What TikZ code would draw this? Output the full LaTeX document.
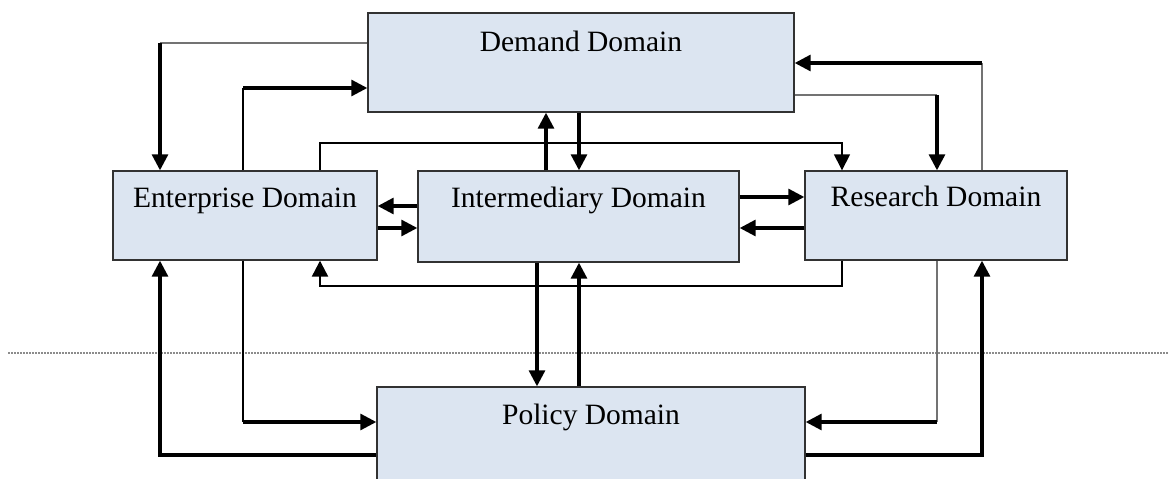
\documentclass[tikz,border=0pt]{standalone}
\usepackage{fontspec}
\setmainfont{Liberation Serif}
\usetikzlibrary{arrows.meta}
\definecolor{boxfill}{RGB}{220,229,241}
\definecolor{boxline}{RGB}{50,50,50}
\definecolor{thingray}{RGB}{115,115,115}
\definecolor{dotgray}{RGB}{140,140,140}
\begin{document}
\begin{tikzpicture}[x=1pt,y=-1pt,
  domainbox/.style={draw=boxline,line width=1.4pt,fill=boxfill,inner sep=0pt},
  lbl/.style={anchor=base,inner sep=0pt,font=\fontsize{29.5}{32}\selectfont},
  tip/.style={-{Triangle[length=16pt,width=16pt]}},
  thickline/.style={line width=3.1pt,black},
  midline/.style={line width=2.3pt,black},
  thinline/.style={line width=1.5pt,black},
  grayline/.style={line width=1.3pt,thingray},
  dotline/.style={line width=1.3pt,dotgray,dash pattern=on 2pt off 1pt}]
\useasboundingbox (0,0) rectangle (1168,479);
\clip (0,0) rectangle (1168,479);
% helper coordinates
\coordinate (xa) at (160,0);
\coordinate (xb) at (243,0);
\coordinate (xc) at (320,0);
\coordinate (xd) at (546,0);
\coordinate (xd2) at (537,0);
\coordinate (xe) at (579,0);
\coordinate (xf) at (842,0);
\coordinate (xg) at (937,0);
\coordinate (xh) at (982,0);
\coordinate (y1) at (0,43);
\coordinate (y2) at (0,88);
\coordinate (y3) at (0,143);
\coordinate (y4) at (0,63);
\coordinate (y5) at (0,95);
\coordinate (y6) at (0,206);
\coordinate (y7) at (0,228);
\coordinate (y8) at (0,197);
\coordinate (y10) at (0,286);
\coordinate (y11) at (0,422);
\coordinate (y12) at (0,455);
\coordinate (dl) at (8,353);
\coordinate (dr) at (1168,353);
% dotted separator
\draw[dotline] (dl) -- (dr);
% boxes
\node[domainbox,minimum width=426pt,minimum height=99pt] (dem) at (581,62.5) {};
\node[domainbox,minimum width=264pt,minimum height=89pt] (ent) at (245,215.5) {};
\node[domainbox,minimum width=321pt,minimum height=91pt] (int) at (578.5,216.5) {};
\node[domainbox,minimum width=262pt,minimum height=89pt] (res) at (936,215.5) {};
\node[domainbox,minimum width=428pt,minimum height=120pt] (pol) at (591,447) {};
% labels
\node[lbl] (demt) at ([yshift=-39pt]dem.north) {Demand Domain};
\node[lbl] (entt) at ([yshift=-37pt]ent.north) {Enterprise Domain};
\node[lbl] (intt) at ([yshift=-37pt]int.north) {Intermediary Domain};
\node[lbl] (rest) at ([yshift=-36pt]res.north) {Research Domain};
\node[lbl] (polt) at ([yshift=-38pt]pol.north) {Policy Domain};
% C1 demand -> enterprise
\draw[grayline] (dem.west |- y1) -- (xa |- y1);
\draw[thickline,tip] (xa |- y1) -- (xa |- ent.north);
% C2 enterprise -> demand
\draw[thinline] (xb |- ent.north) -- (xb |- y2);
\draw[thickline,tip] (xb |- y2) -- (dem.west |- y2);
% C3 enterprise -> research
\draw[thinline,tip] (xc |- ent.north) -- (xc |- y3) -- (xf |- y3) -- (xf |- res.north);
% C4, C5 intermediary <-> demand
\draw[thickline,tip] (xd |- int.north) -- (xd |- dem.south);
\draw[thickline,tip] (xe |- dem.south) -- (xe |- int.north);
% C6..C9 horizontal pairs
\draw[thickline,tip] (int.west |- y6) -- (ent.east |- y6);
\draw[thickline,tip] (ent.east |- y7) -- (int.west |- y7);
\draw[thickline,tip] (int.east |- y8) -- (res.west |- y8);
\draw[thickline,tip] (res.west |- y7) -- (int.east |- y7);
% C10 research -> demand
\draw[grayline] (xh |- res.north) -- (xh |- y4);
\draw[thickline,tip] (xh |- y4) -- (dem.east |- y4);
% C11 demand -> research
\draw[grayline] (dem.east |- y5) -- (xg |- y5);
\draw[thickline,tip] (xg |- y5) -- (xg |- res.north);
% C12 research -> enterprise
\draw[midline,tip] (xf |- res.south) -- (xf |- y10) -- (xc |- y10) -- (xc |- ent.south);
% C13, C14 intermediary <-> policy
\draw[thickline,tip] (xd2 |- int.south) -- (xd2 |- pol.north);
\draw[thickline,tip] (xe |- pol.north) -- (xe |- int.south);
% C15 enterprise -> policy
\draw[thinline] (xb |- ent.south) -- (xb |- y11);
\draw[thickline,tip] (xb |- y11) -- (pol.west |- y11);
% C16 policy -> enterprise
\draw[thickline,tip] (pol.west |- y12) -- (xa |- y12) -- (xa |- ent.south);
% C17 research -> policy
\draw[grayline] (xg |- res.south) -- (xg |- y11);
\draw[thickline,tip] (xg |- y11) -- (pol.east |- y11);
% C18 policy -> research
\draw[thickline,tip] (pol.east |- y12) -- (xh |- y12) -- (xh |- res.south);
\end{tikzpicture}
\end{document}
